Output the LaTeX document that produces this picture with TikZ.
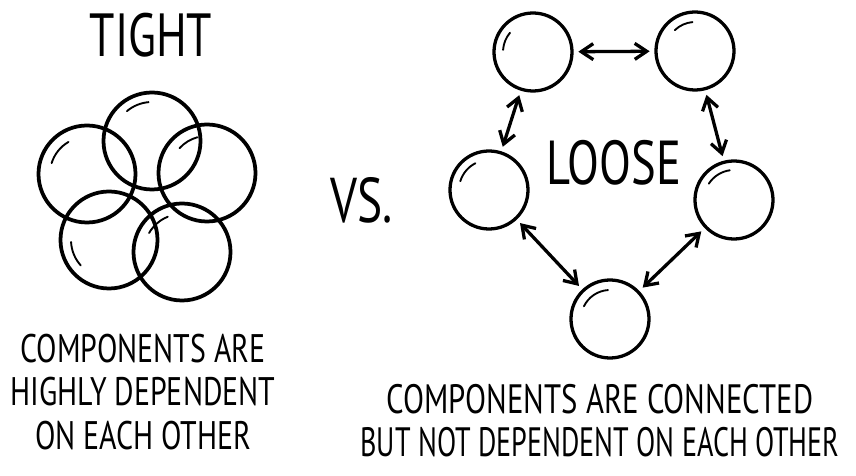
\documentclass[tikz,border=0pt]{standalone}
\usepackage{fontspec}
\setmainfont[FakeStretch=0.75]{PT Sans}
\newfontfamily\narrowhand[FakeStretch=0.685]{PT Sans}
\usetikzlibrary{arrows.meta}
\begin{document}
\begin{tikzpicture}[x=0.03cm,y=0.03cm,
  ring/.style={circle,draw,line width=3.2pt,inner sep=0pt,minimum size=2.91cm},
  ball/.style={circle,draw,line width=2.8pt,inner sep=0pt,minimum size=2.34cm},
  shine/.style={line width=1.6pt,line cap=round},
  link/.style={line width=2.8pt,{Straight Barb[length=3.6mm,width=4.8mm]}-{Straight Barb[length=3.6mm,width=4.8mm]},shorten <=4pt,shorten >=4pt},
  hand/.style={align=center,font=\fontsize{34}{37.4}\selectfont}]
\useasboundingbox (0,0) rectangle (856,476);
\node[font=\fontsize{52}{52}\selectfont] (tight) at (151,441) {TIGHT};
\node[ring] (t1) at (152,335) {};
\node[ring] (t2) at (87,302) {};
\node[ring] (t3) at (207,303) {};
\node[ring] (t4) at (109,236) {};
\node[ring] (t5) at (182,224) {};
\draw[shine] ([shift={(95:39)}]t1.center) arc (95:130:39);
\draw[shine] ([shift={(120:37)}]t2.center) arc (120:163:37);
\draw[shine] ([shift={(105:37)}]t3.center) arc (105:138:37);
\draw[shine] ([shift={(183:38)}]t4.center) arc (183:222:38);
\draw[shine] ([shift={(112:38)}]t5.center) arc (112:150:38);
\node[hand] (tighttext) at (143,84) {COMPONENTS ARE\\HIGHLY DEPENDENT\\ON EACH OTHER};
\node[font=\fontsize{54}{54}\selectfont] (vs) at (362,276) {VS.};
\node[ball] (l1) at (533,424) {};
\node[ball] (l2) at (695,425) {};
\node[ball] (l3) at (489,286) {};
\node[ball] (l4) at (734,276) {};
\node[ball] (l5) at (610,157) {};
\draw[shine] ([shift={(140:30)}]l1.center) arc (140:176:30);
\draw[shine] ([shift={(95:29)}]l2.center) arc (95:134:29);
\draw[shine] ([shift={(117:30)}]l3.center) arc (117:163:30);
\draw[shine] ([shift={(98:30)}]l4.center) arc (98:147:30);
\draw[shine] ([shift={(94:29)}]l5.center) arc (94:154:29);
\draw[link] (l1) -- (l2);
\draw[link] (l1) -- (l3);
\draw[link] (l2) -- (l4);
\draw[link] (l3) -- (l5);
\draw[link] (l4) -- (l5);
\node[font=\fontsize{53}{53}\selectfont] (loose) at (614,313) {LOOSE};
\node[hand,font=\fontsize{35}{36.5}\selectfont] (loosetext) at (600,55) {COMPONENTS ARE CONNECTED\\{\narrowhand BUT NOT DEPENDENT ON EACH OTHER}};
\end{tikzpicture}
\end{document}
